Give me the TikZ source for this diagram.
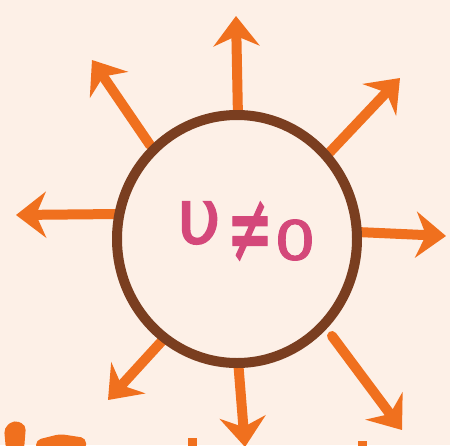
\documentclass[tikz,border=0pt]{standalone}
\usepackage{fontspec}
\newfontfamily\dejavu{DejaVu Sans}
\newfontfamily\dejavufb[FakeBold=2]{DejaVu Sans}
\usetikzlibrary{arrows.meta,shapes.geometric}
\definecolor{paper}{RGB}{253,240,231}
\definecolor{ink}{RGB}{122,62,32}
\definecolor{orng}{RGB}{240,112,30}
\definecolor{pnk}{RGB}{212,72,122}
\tikzset{
  ray/.style={draw=orng, line width=10pt, line cap=round,
    -{Stealth[length=30pt,width=46pt,inset=10pt]}},
  glyph/.style={text=pnk, inner sep=0pt},
}
\begin{document}
\begin{tikzpicture}[x=1pt,y=-1pt]
\fill[paper] (0,0) rectangle (450,445);
\useasboundingbox (0,0) rectangle (450,445);
% arrows
\coordinate (t1) at (236,16);
\coordinate (t2) at (92,60);
\coordinate (t3) at (400,78);
\coordinate (t4) at (16,215);
\coordinate (t5) at (446,236);
\coordinate (t6) at (108,400);
\coordinate (t7) at (245,447);
\coordinate (t8) at (402,430);
\coordinate (s1) at (238,118);
\coordinate (s2) at (150,145);
\coordinate (s3) at (330,152);
\coordinate (s4) at (118,214);
\coordinate (s5) at (357,232);
\coordinate (s6) at (172,330);
\coordinate (s7) at (238,360);
\coordinate (s8) at (332,336);
\foreach \i in {1,...,8} \draw[ray] (s\i) -- (t\i);
% circle
\node[draw=ink, line width=10pt, ellipse, minimum width=240pt, minimum height=248pt, fill=paper, inner sep=0pt] (cell) at (237,239) {};
\node[glyph, font=\dejavufb\fontsize{76}{76}\selectfont] (u) at (199,223) {υ};
\node[glyph, font=\dejavufb\fontsize{68}{68}\selectfont, xscale=0.8, yscale=1.45, transform shape] (ne) at (250,232) {≠};
\node[glyph, font=\dejavufb\fontsize{54}{54}\selectfont, xscale=1.2, transform shape] (zero) at (295,240) {0};
% partial text at bottom
\begin{scope}
\clip (0,0) rectangle (450,445);
\fill[orng, rounded corners=5pt] (4,428) -- (14,420) -- (26,425) -- (24,450) -- (6,450) -- cycle;
\fill[orng, rounded corners=5pt] (36,440) -- (60,434) -- (86,438) -- (86,450) -- (36,450) -- cycle;
\fill[orng] (188,438) rectangle (197,450);
\fill[orng] (358,441) rectangle (367,450);
\end{scope}
\end{tikzpicture}
\end{document}
